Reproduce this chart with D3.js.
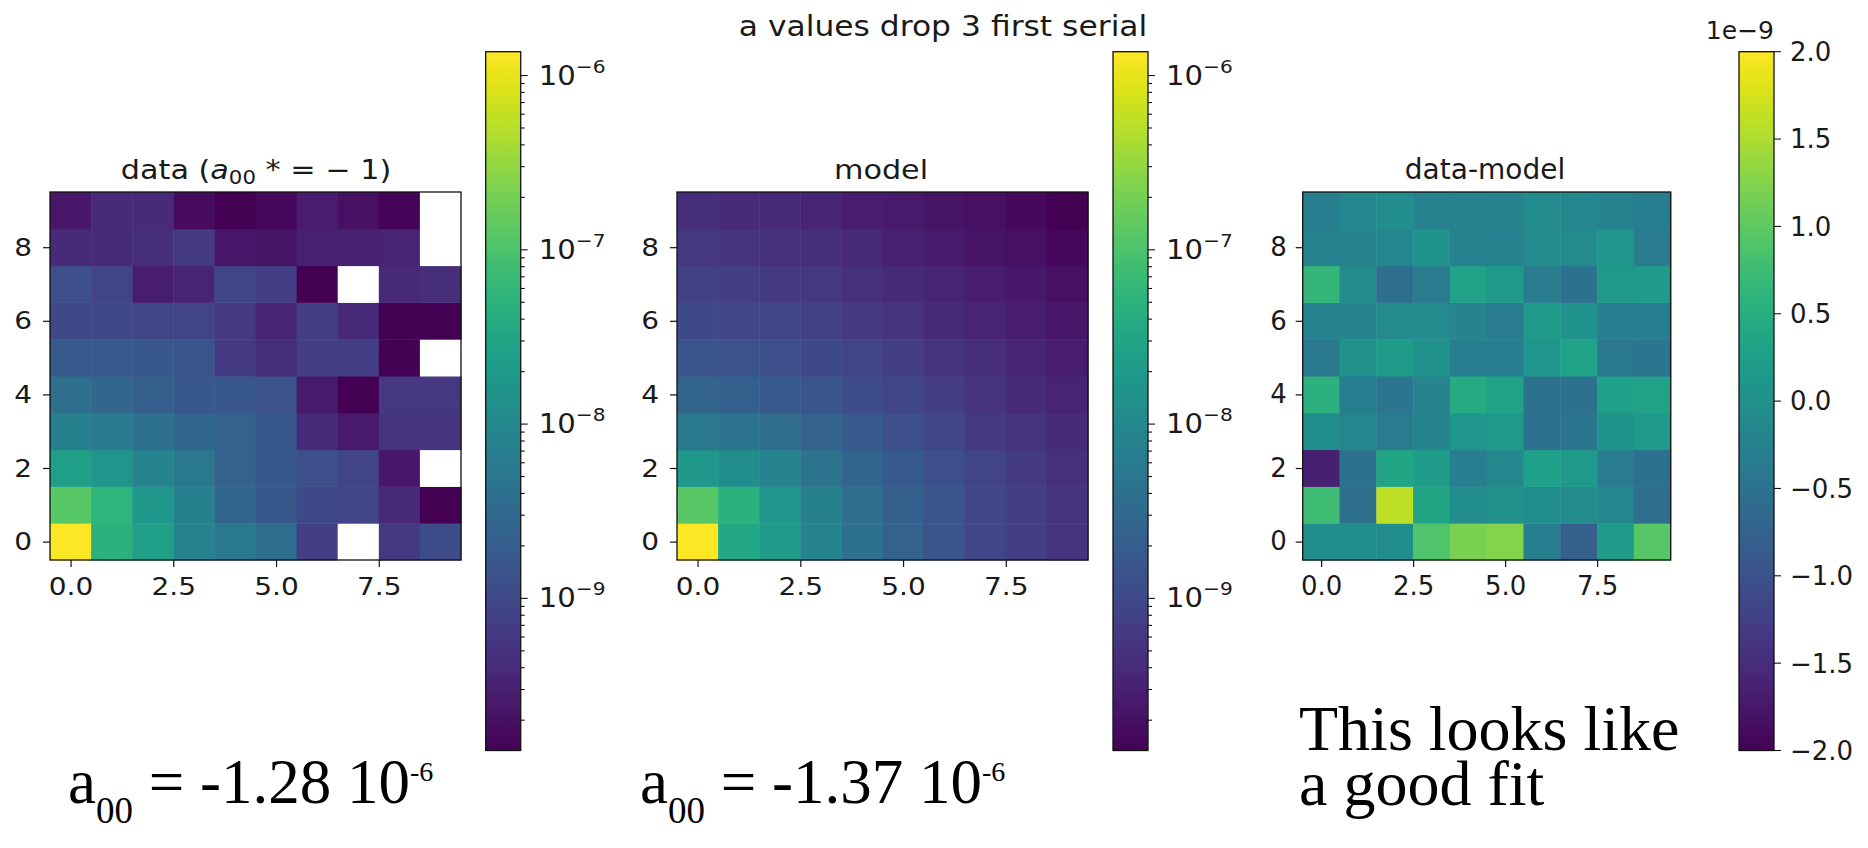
<!DOCTYPE html>
<html>
<head>
<meta charset="utf-8">
<script src="https://cdn.jsdelivr.net/npm/d3@7"></script>
<style>
  body { margin: 0; background: #fff; }
  svg { display: block; }
</style>
</head>
<body>
<svg id="fig" width="1868" height="848"></svg>
<script>
// ---- values (row index = y coordinate, 0 at the bottom; column index = x) ----
const cols = d3.range(10);

// measured a-values, null where the value was dropped (drawn white)
const dataRows = [
  [1.28e-6, 4.94e-8, 2.36e-8, 7.78e-9, 5.38e-9, 3.72e-9, 7.06e-10, null, 6.44e-10, 1.12e-9],
  [1.24e-7, 5.41e-8, 1.79e-8, 7.10e-9, 2.82e-9, 1.62e-9, 1.02e-9, 8.49e-10, 4.06e-10, 1.34e-10],
  [2.36e-8, 1.63e-8, 8.53e-9, 5.38e-9, 2.34e-9, 1.62e-9, 1.23e-9, 8.49e-10, 2.33e-10, null],
  [7.10e-9, 5.90e-9, 4.08e-9, 2.82e-9, 2.34e-9, 1.62e-9, 4.06e-10, 2.56e-10, 5.35e-10, 5.35e-10],
  [3.72e-9, 2.82e-9, 2.14e-9, 1.62e-9, 1.62e-9, 1.35e-9, 2.56e-10, 1.34e-10, 5.87e-10, 5.87e-10],
  [1.78e-9, 1.78e-9, 1.62e-9, 1.48e-9, 6.44e-10, 4.45e-10, 7.06e-10, 7.06e-10, 1.34e-10, null],
  [1.02e-9, 1.02e-9, 9.31e-10, 8.49e-10, 6.44e-10, 3.37e-10, 7.06e-10, 4.06e-10, 1.34e-10, 1.34e-10],
  [1.23e-9, 8.49e-10, 2.81e-10, 3.37e-10, 8.49e-10, 7.06e-10, 1.34e-10, null, 3.70e-10, 4.45e-10],
  [4.06e-10, 4.06e-10, 4.45e-10, 6.44e-10, 2.33e-10, 2.13e-10, 3.08e-10, 3.08e-10, 3.37e-10, null],
  [2.33e-10, 4.06e-10, 4.06e-10, 1.77e-10, 1.34e-10, 1.61e-10, 2.81e-10, 1.94e-10, 1.47e-10, null]
];

// fitted model a-values
const modelRows = [
  [1.37e-6, 3.40e-8, 2.15e-8, 8.53e-9, 4.08e-9, 2.34e-9, 1.48e-9, 9.31e-10, 7.06e-10, 5.35e-10],
  [1.24e-7, 4.94e-8, 1.63e-8, 7.10e-9, 3.72e-9, 2.14e-9, 1.48e-9, 9.31e-10, 7.06e-10, 5.35e-10],
  [1.79e-8, 1.23e-8, 7.78e-9, 4.47e-9, 2.57e-9, 1.78e-9, 1.23e-9, 8.49e-10, 6.44e-10, 4.88e-10],
  [5.38e-9, 4.47e-9, 3.39e-9, 2.34e-9, 1.78e-9, 1.23e-9, 9.31e-10, 6.44e-10, 5.35e-10, 4.06e-10],
  [2.57e-9, 2.14e-9, 1.78e-9, 1.48e-9, 1.12e-9, 9.31e-10, 7.06e-10, 5.35e-10, 4.06e-10, 3.37e-10],
  [1.48e-9, 1.35e-9, 1.23e-9, 1.02e-9, 8.49e-10, 7.06e-10, 5.35e-10, 4.45e-10, 3.37e-10, 2.81e-10],
  [1.02e-9, 9.31e-10, 8.49e-10, 7.74e-10, 6.44e-10, 5.35e-10, 4.06e-10, 3.37e-10, 2.81e-10, 2.33e-10],
  [7.74e-10, 7.06e-10, 6.44e-10, 5.87e-10, 4.88e-10, 4.06e-10, 3.37e-10, 2.81e-10, 2.33e-10, 1.94e-10],
  [5.87e-10, 5.35e-10, 4.88e-10, 4.45e-10, 3.70e-10, 3.08e-10, 2.56e-10, 2.13e-10, 1.94e-10, 1.61e-10],
  [4.45e-10, 4.06e-10, 3.70e-10, 3.37e-10, 2.81e-10, 2.56e-10, 2.13e-10, 1.94e-10, 1.61e-10, 1.34e-10]
];

// data - model, in units of 1e-9
const residualUnit = 1e-9;
const residualRows = [
  [-0.05, -0.05, -0.05, 0.90, 1.20, 1.25, -0.30, -0.80, 0.20, 0.95],
  [0.75, -0.55, 1.60, 0.35, -0.05, 0.00, -0.05, -0.10, -0.15, -0.55],
  [-1.65, -0.50, 0.35, 0.20, -0.30, -0.15, 0.25, 0.15, -0.35, -0.50],
  [-0.05, -0.15, -0.35, -0.20, 0.10, 0.15, -0.50, -0.45, 0.05, 0.15],
  [0.55, -0.30, -0.45, -0.20, 0.45, 0.30, -0.50, -0.50, 0.25, 0.30],
  [-0.40, 0.00, 0.20, 0.00, -0.30, -0.30, 0.10, 0.30, -0.40, -0.45],
  [-0.25, -0.20, -0.10, -0.10, -0.20, -0.35, 0.15, 0.05, -0.30, -0.30],
  [0.65, -0.10, -0.55, -0.35, 0.30, 0.15, -0.35, -0.50, 0.15, 0.20],
  [-0.25, -0.20, -0.15, 0.05, -0.25, -0.25, -0.10, -0.10, 0.10, -0.35],
  [-0.30, -0.15, -0.05, -0.25, -0.25, -0.20, -0.10, -0.15, -0.25, -0.30]
];

const logColorRange = [1.34e-10, 1.37e-6];
const residualColorRange = [-2, 2];
const xTickValues = [0, 2.5, 5, 7.5];
const yTickValues = [0, 2, 4, 6, 8];
const logMajorTicks = [1e-9, 1e-8, 1e-7, 1e-6];
const logMajorLabels = ["−9", "−8", "−7", "−6"];
const residualTicks = [-2, -1.5, -1, -0.5, 0, 0.5, 1, 1.5, 2];
const residualTickLabels = ["−2.0", "−1.5", "−1.0", "−0.5", "0.0", "0.5", "1.0", "1.5", "2.0"];

const figureTitle = "a values drop 3 first serial";
const fitNotes = [
  { value: "-1.28", x: 68 },
  { value: "-1.37", x: 640 }
];
const verdictLines = ["This looks like", "a good fit"];

// ---- layout ----
const svg = d3.select("#fig");
const SANS = "DejaVu Sans, sans-serif";
const SERIF = "Liberation Serif, Times New Roman, serif";
const INK = "#1a1a1a";
const heatTop = 192, heatBottom = 560;
const cbTop = 51.7, cbBottom = 750.5;

const panels = [
  { name: "data", rows: dataRows, x0: 50, x1: 461, cb: [485.7, 520.7], sx: 1.12, titleX: 256, kind: "log" },
  { name: "model", rows: modelRows, x0: 677, x1: 1088, cb: [1113, 1148], sx: 1.12, titleX: 881, kind: "log" },
  { name: "data-model", rows: residualRows, x0: 1302.7, x1: 1670.7, cb: [1739, 1774], sx: 1.0, titleX: 1485, kind: "lin" }
];

const defs = svg.append("defs");
const grad = defs.append("linearGradient").attr("id", "viridisGrad")
  .attr("x1", 0).attr("y1", 1).attr("x2", 0).attr("y2", 0);
d3.range(0, 1.0001, 1 / 40).forEach(t => {
  grad.append("stop").attr("offset", t).attr("stop-color", d3.interpolateViridis(t));
});

function stretchText(sel, sx) {
  sel.attr("transform", `scale(${sx},1)`);
}

panels.forEach(p => {
  const g = svg.append("g").attr("class", "panel-" + p.name);
  const x = d3.scaleLinear().domain([-0.5, 9.5]).range([p.x0, p.x1]);
  const y = d3.scaleLinear().domain([-0.5, 9.5]).range([heatBottom, heatTop]);

  const color = p.kind === "log"
    ? d3.scaleSequentialLog(d3.interpolateViridis).domain(logColorRange).clamp(true)
    : d3.scaleSequential(d3.interpolateViridis).domain(residualColorRange).clamp(true);

  const cells = p.rows.flatMap((row, j) => row.map((v, i) => ({ i, j, v })));
  g.append("g").selectAll("rect").data(cells).join("rect")
    .attr("x", d => x(d.i - 0.5))
    .attr("y", d => y(d.j + 0.5))
    .attr("width", d => x(d.i + 0.5) - x(d.i - 0.5) + 0.5)
    .attr("height", d => y(d.j - 0.5) - y(d.j + 0.5) + 0.5)
    .attr("fill", d => d.v == null ? "#ffffff" : color(d.v));

  g.append("rect")
    .attr("x", p.x0).attr("y", heatTop)
    .attr("width", p.x1 - p.x0).attr("height", heatBottom - heatTop)
    .attr("fill", "none").attr("stroke", "#111").attr("stroke-width", 1.3);

  // axes
  const xAxis = g.append("g").attr("transform", `translate(0,${heatBottom})`)
    .call(d3.axisBottom(x).tickValues(xTickValues).tickFormat(d3.format(".1f")).tickSize(7).tickPadding(10));
  const yAxis = g.append("g").attr("transform", `translate(${p.x0},0)`)
    .call(d3.axisLeft(y).tickValues(yTickValues).tickFormat(d3.format("d")).tickSize(7).tickPadding(9));
  [xAxis, yAxis].forEach(a => {
    a.select(".domain").remove();
    a.selectAll("line").attr("stroke", "#111").attr("stroke-width", 1.2);
    a.selectAll("text").attr("font-family", SANS).attr("font-size", p.sx > 1 ? 25 : 26).attr("fill", INK);
    stretchText(a.selectAll("text"), p.sx);
  });

  // panel title
  const title = g.append("text")
    .attr("transform", `translate(${p.titleX},179) scale(${p.sx},1)`)
    .attr("text-anchor", "middle").attr("font-family", SANS)
    .attr("font-size", p.sx > 1 ? 27 : 28).attr("fill", INK);
  if (p.name === "data") {
    title.append("tspan").text("data (");
    title.append("tspan").attr("font-style", "italic").text("a");
    title.append("tspan").attr("font-size", 19).attr("dy", 5).text("00");
    title.append("tspan").attr("dy", -5).text(" * = − 1)");
  } else {
    title.text(p.name);
  }

  // colorbar
  const [c0, c1] = p.cb;
  const cb = g.append("g");
  cb.append("rect").attr("x", c0).attr("y", cbTop).attr("width", c1 - c0).attr("height", cbBottom - cbTop)
    .attr("fill", "url(#viridisGrad)").attr("stroke", "#111").attr("stroke-width", 1.3);

  if (p.kind === "log") {
    const cy = d3.scaleLog().domain(logColorRange).range([cbBottom, cbTop]);
    const allTicks = cy.ticks();
    const isMajor = v => logMajorTicks.some(m => Math.abs(m - v) / m < 1e-6);
    cb.selectAll("line.tk").data(allTicks).join("line")
      .attr("x1", c1).attr("x2", d => c1 + (isMajor(d) ? 7 : 4))
      .attr("y1", d => cy(d)).attr("y2", d => cy(d))
      .attr("stroke", "#111").attr("stroke-width", 1.1);
    logMajorTicks.forEach((v, k) => {
      const t = cb.append("text")
        .attr("transform", `translate(${c1 + 18},${cy(v) + 9}) scale(${p.sx},1)`)
        .attr("font-family", SANS).attr("font-size", 26).attr("fill", INK);
      t.append("tspan").text("10");
      t.append("tspan").attr("font-size", 18).attr("dy", -12).text(logMajorLabels[k]);
    });
  } else {
    const cy = d3.scaleLinear().domain(residualColorRange).range([cbBottom, cbTop]);
    cb.selectAll("line.tk").data(residualTicks).join("line")
      .attr("x1", c1).attr("x2", c1 + 7)
      .attr("y1", d => cy(d)).attr("y2", d => cy(d))
      .attr("stroke", "#111").attr("stroke-width", 1.1);
    cb.selectAll("text.tl").data(residualTicks).join("text")
      .attr("x", c1 + 16).attr("y", d => cy(d)).attr("dy", "0.36em")
      .attr("font-family", SANS).attr("font-size", 26).attr("fill", INK)
      .text((d, k) => residualTickLabels[k]);
    cb.append("text").attr("x", c1).attr("y", 39).attr("text-anchor", "end")
      .attr("font-family", SANS).attr("font-size", 25).attr("fill", INK)
      .text("1e−9");
  }
});

// figure title
svg.append("text")
  .attr("transform", "translate(943,36) scale(1.12,1)")
  .attr("text-anchor", "middle").attr("font-family", SANS).attr("font-size", 28).attr("fill", INK)
  .text(figureTitle);

// fitted a00 notes under the first two panels
fitNotes.forEach(n => {
  const t = svg.append("text").attr("x", n.x).attr("y", 803)
    .attr("font-family", SERIF).attr("font-size", 63).attr("fill", "#000");
  t.append("tspan").text("a");
  t.append("tspan").attr("font-size", 37).attr("dy", 20).text("00");
  t.append("tspan").attr("dy", -20).text(" = " + n.value + " 10");
  t.append("tspan").attr("font-size", 28).attr("dy", -22).text("-6");
});

// verdict
verdictLines.forEach((line, k) => {
  svg.append("text").attr("x", 1299).attr("y", 750 + k * 55)
    .attr("font-family", SERIF).attr("font-size", 64).attr("fill", "#000")
    .text(line);
});
</script>
</body>
</html>
